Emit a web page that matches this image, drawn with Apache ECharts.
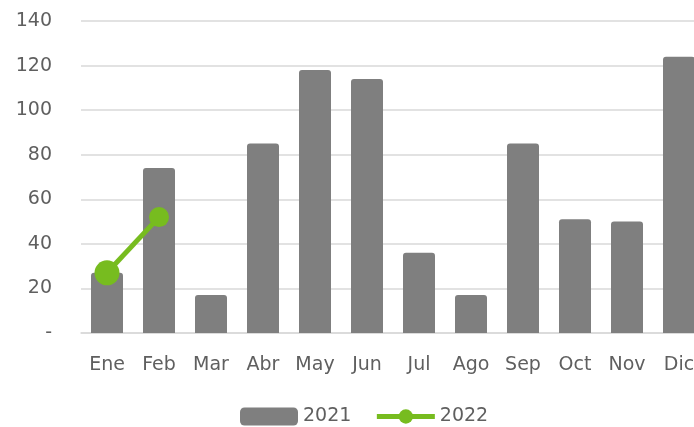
<!DOCTYPE html>
<html>
<head>
<meta charset="utf-8">
<script src="https://cdn.jsdelivr.net/npm/echarts@6/dist/echarts.min.js"></script>
<style>
    html, body { margin: 0; padding: 0; background: #fff; }
    #chart { width: 694px; height: 427px; }
</style>
</head>
<body>
<div id="chart"></div>
<script>
    var months = ['Ene', 'Feb', 'Mar', 'Abr', 'May', 'Jun', 'Jul', 'Ago', 'Sep', 'Oct', 'Nov', 'Dic'];
    var values2021 = [27, 74, 17, 85, 118, 114, 36, 17, 85, 51, 50, 124];
    var values2022 = [27, 52];
    var markerSizes2022 = [25, 20];
    var yTicks = [0, 20, 40, 60, 80, 100, 120, 140];

    var textColor = '#5f5f5f';
    var lineColor = '#77bc1f';
    var font = '"DejaVu Sans", sans-serif';

    var chart = echarts.init(document.getElementById('chart'));
    chart.setOption({
        animation: false,
        grid: {
            left: 81,
            top: 21,
            width: 624,
            height: 312,
            outerBoundsMode: 'none',
            containLabel: false
        },
        legend: {
            left: 240,
            bottom: 1,
            padding: 0,
            itemWidth: 58,
            itemHeight: 18,
            itemGap: 23,
            textStyle: { color: textColor, fontSize: 19, fontFamily: font },
            data: [
                { name: '2021' },
                { name: '2022', lineStyle: { width: 5, color: lineColor } }
            ]
        },
        xAxis: {
            type: 'category',
            data: months,
            axisTick: { show: false },
            axisLine: { lineStyle: { color: '#d9d9d9', width: 1.5 } },
            axisLabel: { color: textColor, fontSize: 19, fontFamily: font, margin: 23, interval: 0 }
        },
        yAxis: {
            type: 'value',
            min: yTicks[0],
            max: yTicks[yTicks.length - 1],
            interval: 20,
            axisLine: { show: false },
            axisTick: { show: false },
            splitLine: { lineStyle: { color: '#d9d9d9', width: 1.5 } },
            axisLabel: {
                color: textColor, fontSize: 19, fontFamily: font, margin: 29,
                formatter: function (v) { return v === 0 ? '-' : v; }
            }
        },
        series: [
            {
                name: '2021',
                type: 'bar',
                data: values2021,
                barWidth: 32,
                itemStyle: { color: '#7f7f7f', borderRadius: [3, 3, 0, 0] }
            },
            {
                name: '2022',
                type: 'line',
                data: values2022.map(function (v, i) {
                    return { value: v, symbolSize: markerSizes2022[i] };
                }),
                symbol: 'circle',
                symbolSize: 20,
                lineStyle: { color: lineColor, width: 5 },
                itemStyle: { color: lineColor }
            }
        ]
    });
</script>
</body>
</html>
